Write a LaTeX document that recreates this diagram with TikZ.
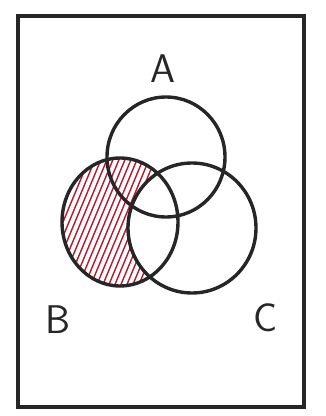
\documentclass[tikz,border=0pt]{standalone}
\usepackage{xcolor}
\usepackage{tikz}
\definecolor{cr}{HTML}{B8182E}
\begin{document}
\begin{tikzpicture}[x=1pt,y=1pt,
  pen/.style={line width=3.4pt, draw=black!85, line cap=round},
  hatch/.style={line width=1.4pt, draw=cr, line cap=round},
  lbl/.style={font=\fontsize{40}{42}\selectfont\sffamily, text=black!85}]
  \useasboundingbox (0,0) rectangle (326,416);
  \fill[white] (0,0) rectangle (326,416);
  % frame
  \draw[pen] (18,9) rectangle (304,400);
  % hatched part of B outside C
  \begin{scope}[even odd rule]
    \clip (120,194) ellipse [x radius=58, y radius=64];
    \clip (192,188) ellipse [x radius=64, y radius=65] (0,0) rectangle (326,416);
    \foreach \s in {-20,-14,...,180} {
      \draw[hatch] (\s,110) -- (\s+75,290);}
  \end{scope}
  % circles A, B, C
  \draw[pen] (166,259) ellipse [x radius=59, y radius=60];
  \draw[pen] (120,194) ellipse [x radius=58, y radius=64];
  \draw[pen] (192,188) ellipse [x radius=64, y radius=65];
  \node[lbl] (labA) at (163,347) {A};
  \node[lbl] (labB) at (58,96) {B};
  \node[lbl] (labC) at (266,98) {C};
\end{tikzpicture}
\end{document}
